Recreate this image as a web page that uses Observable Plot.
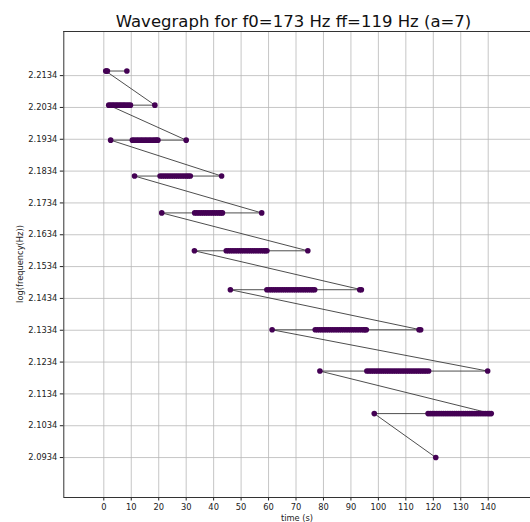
<!DOCTYPE html>
<html><head><meta charset="utf-8">
<script src="https://cdn.jsdelivr.net/npm/d3@7"></script>
<script src="https://cdn.jsdelivr.net/npm/@observablehq/plot@0.6"></script>
<style>body{margin:0;background:#fff;overflow:hidden} svg{display:block}</style>
</head><body><div id="chart"></div>
<script>
const titleText = "Wavegraph for f0=173 Hz ff=119 Hz (a=7)";
const xLabel = "time (s)";
const yLabel = "log(frequency(Hz))";

// frequency of each row (Hz); plotted at log10(f)
const freqs = [164, 160, 156, 152, 148, 144, 140, 136, 132, 128, 124];

// times (s) of the points in each row
const rowTimes = [
  [0.7, 1.0, 1.3, 8.4],
  [1.8, 2.4, 3.1, 3.7, 4.4, 5.0, 5.7, 6.3, 7.0, 7.6, 8.3, 9.0, 9.7, 18.6],
  [2.5, 10.4, 11.1, 11.9, 12.6, 13.4, 14.1, 14.9, 15.6, 16.4, 17.1, 17.9, 18.6, 19.2, 19.7, 30.0],
  [11.2, 20.5, 21.3, 22.1, 22.9, 23.7, 24.5, 25.3, 26.1, 26.9, 27.7, 28.5, 29.3, 30.1, 30.8, 31.5, 42.9],
  [21.1, 33.1, 33.9, 34.7, 35.5, 36.3, 37.1, 37.9, 38.7, 39.5, 40.3, 41.1, 41.9, 42.6, 43.2, 57.5],
  [33.0, 44.6, 45.4, 46.2, 47.0, 47.8, 48.6, 49.4, 50.2, 51.0, 51.8, 52.6, 53.4, 54.2, 55.0, 55.8, 56.6, 57.4, 58.2, 58.8, 59.4, 74.3],
  [46.1, 59.4, 60.2, 61.0, 61.8, 62.6, 63.4, 64.2, 65.0, 65.8, 66.6, 67.4, 68.2, 69.0, 69.8, 70.6, 71.4, 72.2, 73.0, 73.8, 74.6, 75.4, 76.1, 76.8, 93.2, 93.8],
  [61.3, 77.0, 77.8, 78.6, 79.4, 80.2, 81.0, 81.8, 82.6, 83.4, 84.2, 85.0, 85.8, 86.6, 87.4, 88.2, 89.0, 89.8, 90.6, 91.4, 92.2, 93.0, 93.8, 94.6, 95.1, 95.6, 114.8, 115.4],
  [78.7, 95.8, 96.6, 97.4, 98.2, 99.0, 99.8, 100.6, 101.4, 102.2, 103.0, 103.8, 104.6, 105.4, 106.2, 107.0, 107.8, 108.6, 109.4, 110.2, 111.0, 111.8, 112.6, 113.4, 114.2, 115.0, 115.8, 116.6, 117.4, 118.3, 139.8],
  [98.5, 118.1, 118.9, 119.7, 120.5, 121.3, 122.1, 122.9, 123.7, 124.5, 125.3, 126.1, 126.9, 127.7, 128.5, 129.3, 130.1, 130.9, 131.7, 132.5, 133.3, 134.1, 134.9, 135.7, 136.5, 137.3, 138.1, 138.9, 139.7, 140.4, 141.1],
  [120.9]
];

const xTicks = [0, 10, 20, 30, 40, 50, 60, 70, 80, 90, 100, 110, 120, 130, 140];
const yTicks = [2.2134, 2.2034, 2.1934, 2.1834, 2.1734, 2.1634, 2.1534, 2.1434, 2.1334, 2.1234, 2.1134, 2.1034, 2.0934];

const points = [];
const path = [];
freqs.forEach((f, i) => {
  const y = Math.log10(f);
  rowTimes[i].forEach(t => points.push({t, y}));
  [...rowTimes[i]].sort((a, b) => b - a).forEach(t => path.push({t, y}));
});

const xMin = -14.57, xMax = 155.4, yMin = 2.08085, yMax = 2.22726;

const chart = Plot.plot({
  width: 530, height: 522,
  marginLeft: 63.3, marginRight: 0, marginTop: 31, marginBottom: 25,
  style: {fontFamily: "DejaVu Sans", fontSize: "8.3px", color: "#222", background: "#fff", overflow: "visible"},
  x: {domain: [xMin, xMax], ticks: xTicks, tickSize: 3.5, tickPadding: 3.5, label: null, tickFormat: d => String(d)},
  y: {domain: [yMin, yMax], ticks: yTicks, tickSize: 3.5, tickPadding: 3, label: null, tickFormat: d => d.toFixed(4)},
  marks: [
    Plot.ruleX(xTicks, {stroke: "#b8b8b8", strokeWidth: 0.8}),
    Plot.ruleY(yTicks, {stroke: "#b8b8b8", strokeWidth: 0.8}),
    Plot.line(path, {x: "t", y: "y", stroke: "#3a3a3a", strokeWidth: 0.9}),
    Plot.dot(points, {x: "t", y: "y", r: 2.8, fill: "#440154"}),
    Plot.ruleX([xMin], {stroke: "#333", strokeWidth: 1}),
    Plot.ruleY([yMin, yMax], {stroke: "#333", strokeWidth: 1})
  ]
});

const svg = d3.select(chart);
svg.append("text").attr("x", 293.5).attr("y", 26.5).attr("text-anchor", "middle")
  .attr("font-size", "16.5px").attr("fill", "#111").text(titleText);
svg.append("text").attr("x", 297).attr("y", 520.5).attr("text-anchor", "middle")
  .attr("font-size", "8.3px").attr("fill", "#222").text(xLabel);
svg.append("text").attr("transform", "translate(22.5,264) rotate(-90)").attr("text-anchor", "middle")
  .attr("font-size", "8.3px").attr("fill", "#222").text(yLabel);

document.getElementById("chart").appendChild(chart);
</script>
</body></html>
